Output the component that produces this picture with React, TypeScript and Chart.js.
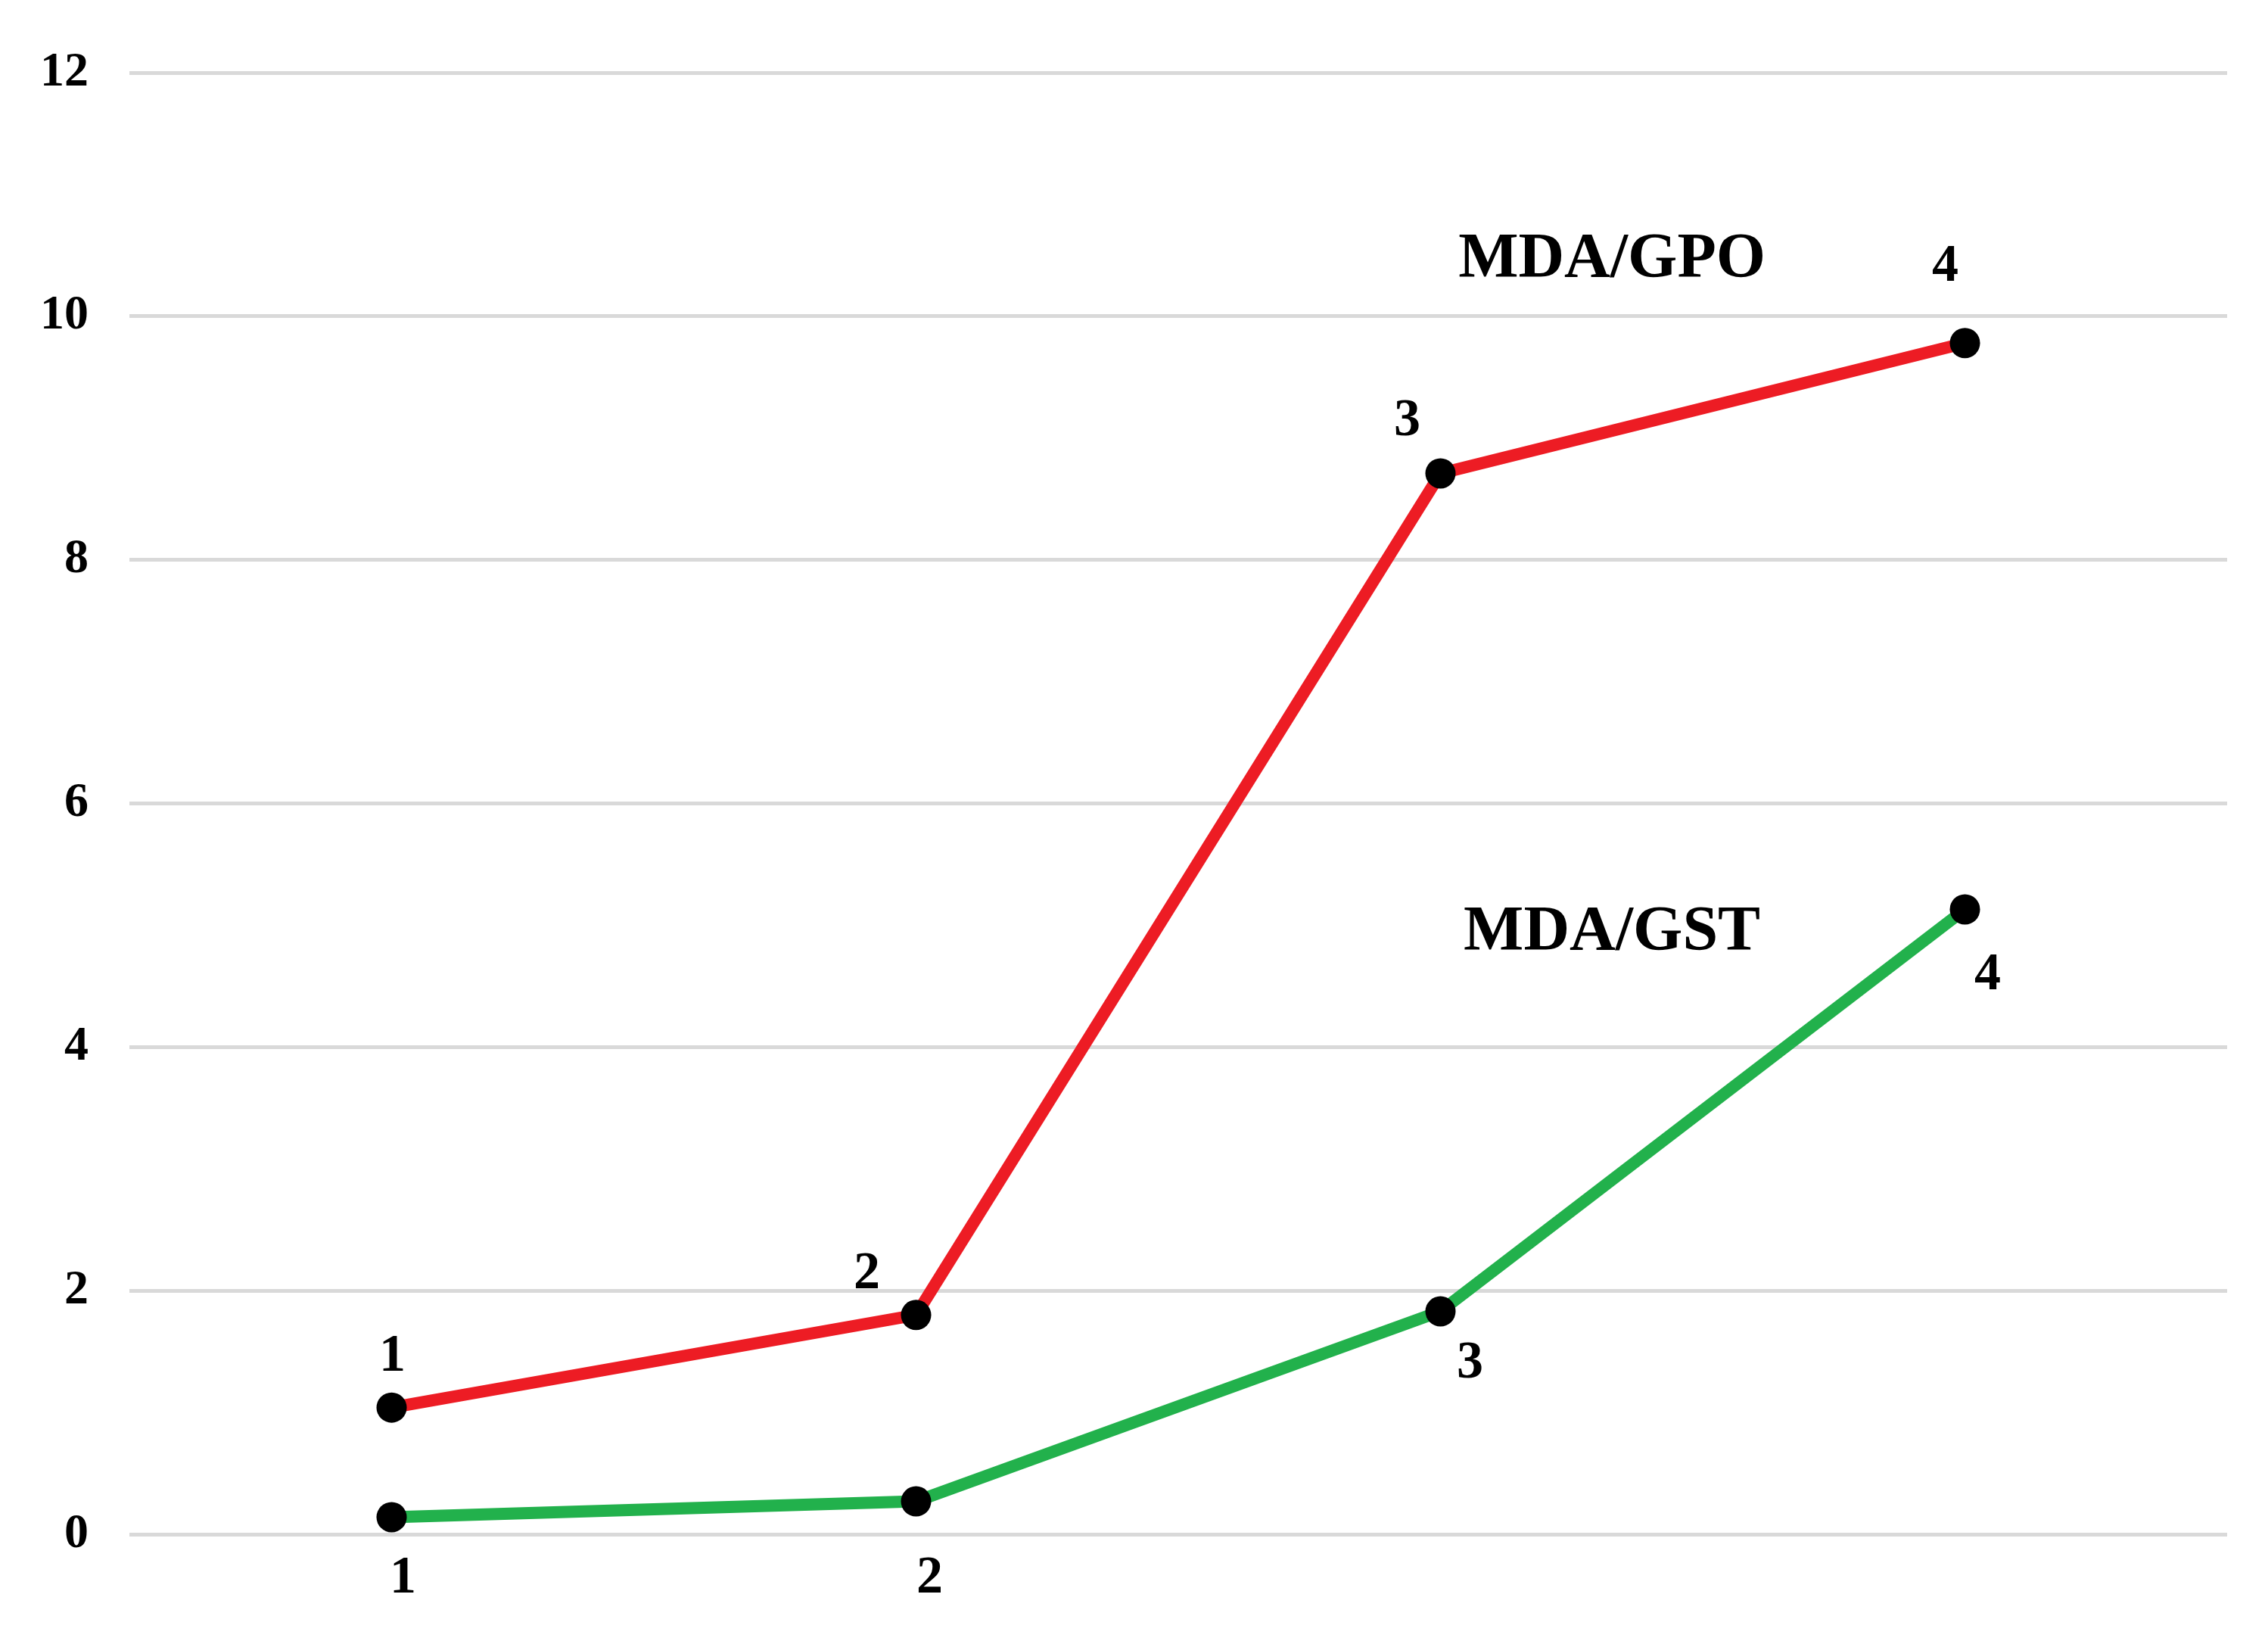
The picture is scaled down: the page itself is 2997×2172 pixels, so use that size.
import React, { useEffect, useRef } from "react";
import { Chart, registerables } from "chart.js";

Chart.register(...registerables);

// ---- data ----
const categories = ["1", "2", "3", "4"];
const gpoValues = [1.04, 1.8, 8.71, 9.78];
const gstValues = [0.14, 0.27, 1.83, 5.13];
const seriesNames = ["MDA/GPO", "MDA/GST"];
const pointLabels = ["1", "2", "3", "4"];
const yMin = 0;
const yMax = 12;
const yStep = 2;

// ---- styles ----
const FONT = "Liberation Serif";
const RED = "#ed1c24";
const GREEN = "#22b14c";
// label offsets (px) from each point centre, per dataset
const labelOffsets = [
  [[1, -67], [-65, -53], [-44, -68], [-26, -100]],
  [[15, 81], [18, 102], [39, 69], [30, 87]],
];
// series-name anchors in scale units (x: category index, y: value of baseline)
const nameAnchors = [
  { x: 2.327, y: 10.32 },
  { x: 2.327, y: 4.8 },
];

const labelPlugin = {
  id: "pointAndSeriesLabels",
  afterDatasetsDraw(chart: any) {
    const ctx = chart.ctx;
    ctx.save();
    ctx.fillStyle = "#000";
    ctx.textAlign = "center";
    ctx.textBaseline = "middle";
    ctx.font = `bold 70px "${FONT}"`;
    chart.data.datasets.forEach((_ds: any, di: number) => {
      const meta = chart.getDatasetMeta(di);
      meta.data.forEach((pt: any, i: number) => {
        const off = labelOffsets[di][i];
        ctx.fillText(pointLabels[i], pt.x + off[0], pt.y + off[1]);
      });
    });
    ctx.font = `bold 84px "${FONT}"`;
    ctx.textBaseline = "alphabetic";
    const xs = chart.scales.x;
    const ys = chart.scales.y;
    seriesNames.forEach((name, i) => {
      const a = nameAnchors[i];
      ctx.fillText(name, xs.getPixelForValue(a.x), ys.getPixelForValue(a.y));
    });
    ctx.restore();
  },
};

export default function App() {
  const ref = useRef<HTMLCanvasElement | null>(null);
  useEffect(() => {
    if (!ref.current) return;
    const chart = new Chart(ref.current, {
      type: "line",
      data: {
        labels: categories,
        datasets: [
          {
            label: seriesNames[0],
            data: gpoValues,
            borderColor: RED,
            backgroundColor: RED,
            borderWidth: 16,
            tension: 0,
            pointRadius: 20,
            pointBackgroundColor: "#000",
            pointBorderColor: "#000",
            pointBorderWidth: 0,
          },
          {
            label: seriesNames[1],
            data: gstValues,
            borderColor: GREEN,
            backgroundColor: GREEN,
            borderWidth: 16,
            tension: 0,
            pointRadius: 20,
            pointBackgroundColor: "#000",
            pointBorderColor: "#000",
            pointBorderWidth: 0,
          },
        ],
      },
      options: {
        responsive: false,
        animation: false,
        layout: { padding: { left: 0, right: 54, top: 96, bottom: 145 } },
        plugins: {
          legend: { display: false },
          tooltip: { enabled: false },
        },
        scales: {
          x: {
            type: "category",
            offset: true,
            display: false,
            grid: { display: false },
          },
          y: {
            min: yMin,
            max: yMax,
            border: { display: false },
            grid: { color: "#d9d9d9", lineWidth: 5, drawTicks: false },
            ticks: {
              stepSize: yStep,
              color: "#000",
              padding: 54,
              font: { family: `"${FONT}"`, size: 64, weight: "bold" },
            },
            afterFit(scale: any) {
              scale.width = 171;
            },
          },
        },
      },
      plugins: [labelPlugin],
    } as any);
    let alive = true;
    if ((document as any).fonts && (document as any).fonts.load) {
      Promise.all([
        (document as any).fonts.load(`bold 64px "${FONT}"`),
        (document as any).fonts.load(`bold 84px "${FONT}"`),
      ]).then(() => {
        if (alive) chart.update();
      }).catch(() => {});
    }
    return () => {
      alive = false;
      chart.destroy();
    };
  }, []);
  return (
    <div style={{ position: "absolute", left: 0, top: 0, width: 2997, height: 2172, background: "#fff" }}>
      <canvas ref={ref} width={2997} height={2172} style={{ display: "block" }} />
    </div>
  );
}
